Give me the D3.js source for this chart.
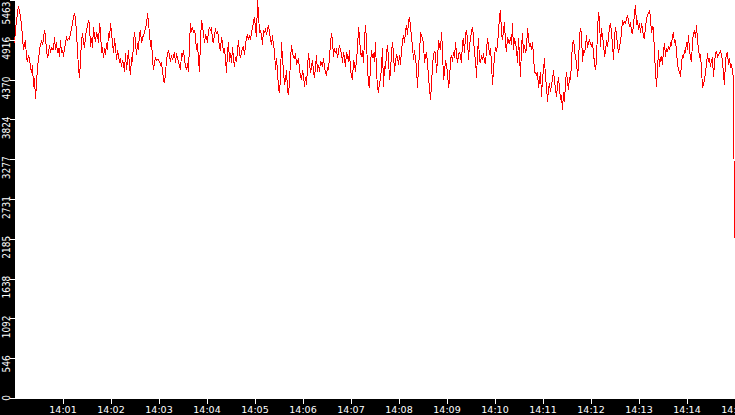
<!DOCTYPE html>
<html>
<head>
<meta charset="utf-8">
<script src="https://cdn.jsdelivr.net/npm/d3@7"></script>
<style>
  body { margin: 0; background: #fff; }
  svg { display: block; }
</style>
</head>
<body>
<svg width="735" height="415"></svg>
<script>
// time window of the trace
let startTime = new Date(2000, 0, 1, 14, 0, 0);
let endTime = new Date(2000, 0, 1, 14, 15, 0);

// y axis range and tick labels (max of the trace)
let yMax = 5463;
let yTicks = [0, 546, 1092, 1638, 2185, 2731, 3277, 3824, 4370, 4916, 5463];

// minute ticks shown along the bottom
let xTickLabels = ['14:01', '14:02', '14:03', '14:04', '14:05', '14:06', '14:07', '14:08',
    '14:09', '14:10', '14:11', '14:12', '14:13', '14:14', '14:15'];

let rates = [
    4868, 5051, 5189, 5280, 5381, 5303, 5234, 5120, 4960, 4777,
    4868, 4914, 4662, 4617, 4708, 4662, 4548, 4457, 4571, 4274,
    4388, 4100, 4319, 4548, 4640, 4777, 4845, 4891, 4845, 4937,
    5051, 4960, 4777, 4662, 4731, 4845, 4731, 4823, 4777, 4777,
    4960, 4777, 4891, 4731, 4800, 4685, 4914, 4731, 4777, 4685,
    4800, 4868, 4951, 4914, 4937, 4923, 5006, 5074, 5143, 5234,
    5280, 5211, 5006, 4777, 4525, 4388, 4640, 4914, 5006, 4891,
    4800, 4960, 5051, 5097, 5189, 5120, 4823, 4937, 4800, 5097,
    4960, 4891, 5006, 4983, 4868, 5143, 5051, 4731, 4823, 4662,
    4800, 4708, 4868, 4777, 5006, 4937, 5143, 5028, 4868, 4731,
    4937, 4823, 4640, 4777, 4708, 4594, 4662, 4548, 4640, 4571,
    4479, 4731, 4502, 4640, 4777, 4548, 4434, 4685, 4617, 4868,
    5028, 4891, 4708, 4868, 4777, 5006, 5051, 4868, 4937, 4983,
    5006, 5097, 5120, 5280, 5143, 5006, 4823, 4914, 4640, 4502,
    4617, 4662, 4640, 4649, 4640, 4617, 4571, 4594, 4502, 4365,
    4319, 4457, 4640, 4731, 4777, 4685, 4617, 4708, 4640, 4685,
    4754, 4594, 4731, 4662, 4617, 4548, 4502, 4731, 4685, 4777,
    4640, 4548, 4502, 4594, 4479, 4868, 5143, 5028, 5097, 5006,
    5051, 4960, 4777, 4868, 4640, 4479, 4914, 5189, 5097, 5006,
    4868, 4983, 4960, 4868, 5051, 5074, 5051, 5074, 4914, 4868,
    5006, 5051, 5006, 5028, 4960, 4800, 4777, 4960, 4868, 4731,
    4800, 4662, 4457, 4754, 4891, 4617, 4731, 4594, 4823, 4662,
    4548, 4685, 4617, 4777, 4914, 4731, 4662, 4754, 4800, 4823,
    4708, 4845, 4960, 4983, 4914, 4960,
    4914, 5028, 5074, 5166, 5234, 5074, 4960, 5463, 5280, 5006,
    5051, 4983, 4845, 5051, 5006, 5074, 4983, 5051, 5120, 5006,
    4937, 4845, 4983, 4823, 4777, 4502, 4662, 4479, 4251, 4182,
    4411, 4891, 4640, 4502, 4296, 4365, 4502, 4228, 4159, 4342,
    4640, 4845, 4731, 4685, 4662, 4731, 4571, 4617, 4662, 4502,
    4411, 4365, 4502, 4434, 4274, 4411, 4296, 4548, 4731, 4594,
    4457, 4548, 4640, 4479, 4388, 4548, 4708, 4479, 4571, 4479,
    4617, 4594, 4548, 4662, 4548, 4457, 4434, 4548, 4502, 4685,
    4868, 5006, 4914, 4685, 4800, 4731, 4800, 4662, 4754, 4845,
    4777, 4731, 4594, 4754, 4662, 4548, 4754, 4685, 4617, 4777,
    4479, 4434, 4365, 4640, 4594, 4479, 4662, 4777, 5097, 4960,
    4731, 4685, 4777, 4594, 4937, 5120, 4914, 4525, 4319, 4251,
    4571,
    4777, 4662, 4731, 4617, 4891, 4479, 4274, 4182, 4342, 4365,
    4548, 4800, 4274, 4548, 4525, 4731, 4845, 4662, 4365, 4479,
    4731, 4891, 4731, 4479, 4617, 4708, 4685, 4571, 4708, 4571,
    4777, 4891, 4983, 4868, 5028, 5120, 4983, 5166, 5234, 5097,
    4960, 4823, 4640, 4777, 4640, 4548, 4251, 4548, 4731, 5006,
    4983, 4937, 4868, 4594, 4708, 4731, 4594, 4411, 4251, 4090,
    4296, 4571, 4708, 4754, 4731, 4457, 4640, 4914, 4823, 4777,
    5028, 4777, 4365, 4479, 4640, 4548, 4479, 4251, 4365, 4640,
    4708, 4617, 4754, 4662, 4891, 4731, 4594, 4708, 4754, 4685,
    4594, 4891, 4937, 4731, 4983, 5051, 4914, 4640, 4845, 4937,
    5028, 5097, 4960, 4708, 4662, 4388, 4731, 4937, 4640, 4594,
    4708, 4640, 4731, 4617, 4594, 4777, 4937, 4845, 4708, 4800,
    4594, 4296, 4502,
    4685, 4823, 4754, 4845, 5028, 5234, 5326, 5006, 4914, 5051,
    5166, 4868, 4754, 4960, 4891, 4868, 4960, 4845, 5143, 4777,
    4937, 4868, 4800, 4594, 4937, 4708, 4411, 4823, 5006, 4731,
    4845, 4731, 4800, 5074, 4937, 4823, 4868, 4777, 4891, 4708,
    4479, 4457, 4434, 4479, 4251, 4365, 4479, 4136, 4388, 4502,
    4662, 4388, 4296, 4068, 4251, 4319, 4205, 4296, 4365, 4502,
    4342, 4251, 4136, 4296, 4411, 4251, 4090, 4159, 3953, 4205,
    4068, 4319, 4479, 4342, 4228, 4411, 4365, 4617, 4868, 4914,
    4800, 4662, 4617, 4411, 4548, 4983, 5074, 5006, 4617, 4777,
    4731, 4823, 4983, 4800, 4891, 4914, 4868, 4823, 4891, 4731,
    4594, 4502, 4640, 5051, 5303, 5189, 4823, 5074, 4960, 4868,
    4685, 4754, 4914, 4823, 4937, 5097, 5143, 5006, 4868, 4640,
    4937, 5097,
    4983, 4845, 4731, 4823, 4891, 5028, 5189, 5120, 5166, 5143,
    5211, 5257, 5166, 5097, 5166, 5028, 5006, 5120, 5280, 5394,
    5120, 5189, 5051, 5143, 5006, 5143, 5074, 4960, 4937, 5097,
    5189, 5257, 5280, 5326, 5211, 5006, 5097, 5074, 4708, 4502,
    4274, 4502, 4777, 4548, 4662, 4685, 4571, 4777, 4868, 4685,
    4800, 4754, 4823, 4777, 4868, 4845, 4983, 5006, 4868, 4914,
    4754, 4594, 4502, 4479, 4411, 4594, 4708, 4662, 4777, 4731,
    4891, 4777, 4983, 4777, 4662, 4617, 4891, 5006, 5051, 4937,
    5120, 4914, 4777, 4685, 4708, 4525, 4251, 4319, 4365, 4479,
    4571, 4731, 4617, 4662, 4548, 4640, 4662, 4411, 4594, 4731,
    4754, 4685, 4708, 4731, 4777, 4708, 4640, 4434, 4296, 4640,
    4708, 4754, 4571, 4662, 4548, 4571, 4502, 4365,
    2200
];

let svg = d3.select('svg');
let width = +svg.attr('width');
let height = +svg.attr('height');

let plotLeft = 15;
let plotBottom = 399;

let stepMs = (endTime - startTime) / (rates.length - 1);
let data = rates.map((v, i) => ({time: new Date(+startTime + i * stepMs), value: v}));

let xScale = d3.scaleTime()
    .domain([startTime, endTime])
    .range([plotLeft - 0.5, width - 0.5]);

let yScale = d3.scaleLinear()
    .domain([0, yMax])
    .range([plotBottom - 1, 0]);

// black axis bands
svg.append('rect')
    .attr('x', 0).attr('y', 0)
    .attr('width', plotLeft).attr('height', height)
    .attr('fill', '#000');
svg.append('rect')
    .attr('x', 0).attr('y', plotBottom)
    .attr('width', width).attr('height', height - plotBottom)
    .attr('fill', '#000');

// trace
svg.append('path')
    .datum(data)
    .attr('fill', 'none')
    .attr('stroke', '#ff0000')
    .attr('stroke-width', 1)
    .attr('shape-rendering', 'crispEdges')
    .attr('d', d3.line().x(d => xScale(d.time)).y(d => yScale(d.value)));

// bottom axis
let parseMinute = d3.timeParse('%H:%M');
let xTickTimes = xTickLabels.map(s => {
    let p = parseMinute(s);
    return new Date(2000, 0, 1, p.getHours(), p.getMinutes(), 0);
});

let xAxis = svg.append('g')
    .attr('transform', `translate(0,${plotBottom})`)
    .call(d3.axisBottom(xScale)
        .tickValues(xTickTimes)
        .tickSize(5)
        .tickFormat((d, i) => xTickLabels[i]));
xAxis.select('.domain').remove();
xAxis.attr('font-family', '"DejaVu Sans", sans-serif').attr('font-size', 9.5);
xAxis.selectAll('line').attr('stroke', '#fff').attr('shape-rendering', 'crispEdges');
xAxis.selectAll('text').attr('fill', '#fff').attr('y', 7);

// left axis, labels turned upright
let yAxis = svg.append('g')
    .attr('transform', `translate(${plotLeft},0)`)
    .call(d3.axisLeft(yScale)
        .tickValues(yTicks)
        .tickSize(5)
        .tickFormat(d3.format('d')));
yAxis.select('.domain').remove();
yAxis.attr('font-family', '"DejaVu Sans Condensed", "DejaVu Sans", sans-serif').attr('font-size', 10);
yAxis.selectAll('line').attr('stroke', '#fff').attr('shape-rendering', 'crispEdges');
yAxis.selectAll('text')
    .attr('fill', '#fff')
    .attr('font-stretch', 'condensed')
    .attr('transform', 'rotate(-90)')
    .attr('text-anchor', 'end')
    .attr('dy', 0)
    .attr('x', d => d === yMax ? -1 : 3.5)
    .attr('y', -5.5);
</script>
</body>
</html>
